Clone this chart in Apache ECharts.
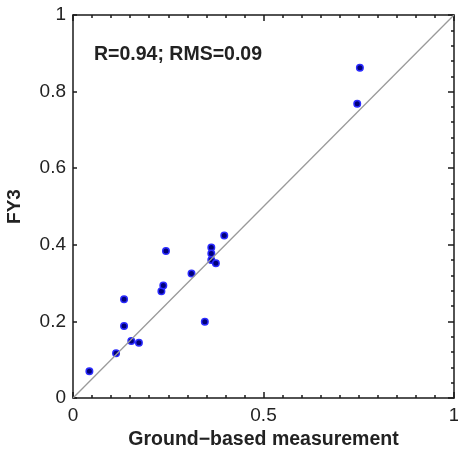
<!DOCTYPE html>
<html>
<head>
<meta charset="utf-8">
<script src="https://cdn.jsdelivr.net/npm/echarts@6/dist/echarts.min.js"></script>
<style>html,body{margin:0;padding:0;background:#fff}#c{width:458px;height:451px}</style>
</head>
<body>
<div id="c"></div>
<script>
const groundValues = [0.043, 0.113, 0.134, 0.134, 0.153, 0.173, 0.232, 0.237, 0.244, 0.311, 0.346, 0.363, 0.363, 0.363, 0.375, 0.397, 0.746, 0.753];
const fy3Values    = [0.070, 0.117, 0.188, 0.258, 0.149, 0.144, 0.279, 0.294, 0.384, 0.325, 0.199, 0.393, 0.377, 0.360, 0.352, 0.424, 0.768, 0.862];
const identityLine = [[0, 0], [1, 1]];
const xTicks = [0, 0.5, 1];
const yTicks = [0, 0.2, 0.4, 0.6, 0.8, 1];
const annotation = 'R=0.94; RMS=0.09';
const xName = 'Ground\u2212based measurement';
const yName = 'FY3';

const FONT = '"Liberation Sans", Arial, sans-serif';
const axisLineStyle = { color: '#1a1a1a', width: 1.5 };
const points = groundValues.map((g, i) => [g, fy3Values[i]]);

const chart = echarts.init(document.getElementById('c'), null, { renderer: 'canvas' });
chart.setOption({
  animation: false,
  backgroundColor: '#fff',
  grid: { left: 73, right: 4, top: 15, bottom: 53, containLabel: false, outerBoundsMode: 'none' },
  xAxis: [
    {
      type: 'value', min: xTicks[0], max: xTicks[xTicks.length - 1], interval: xTicks[1] - xTicks[0],
      position: 'bottom',
      name: xName, nameLocation: 'middle', nameGap: 30,
      nameTextStyle: { fontFamily: FONT, fontSize: 19.5, fontWeight: 'bold', color: '#222' },
      axisLine: { show: true, onZero: false, lineStyle: axisLineStyle },
      axisTick: { show: true, inside: true, length: 6, lineStyle: axisLineStyle },
      minorTick: { show: true, splitNumber: 10, length: 3, lineStyle: { color: '#1a1a1a', width: 1.5 } },
      axisLabel: { fontFamily: FONT, fontSize: 19, color: '#222', margin: 8 },
      splitLine: { show: false }
    },
    {
      type: 'value', min: xTicks[0], max: xTicks[xTicks.length - 1], interval: xTicks[1] - xTicks[0],
      position: 'top',
      axisLine: { show: true, onZero: false, lineStyle: axisLineStyle },
      axisTick: { show: true, inside: true, length: 6, lineStyle: axisLineStyle },
      minorTick: { show: true, splitNumber: 10, length: 3, lineStyle: { color: '#1a1a1a', width: 1.5 } },
      axisLabel: { show: false },
      splitLine: { show: false }
    }
  ],
  yAxis: [
    {
      type: 'value', min: yTicks[0], max: yTicks[yTicks.length - 1], interval: yTicks[1] - yTicks[0],
      position: 'left',
      name: yName, nameLocation: 'middle', nameGap: 49,
      nameTextStyle: { fontFamily: FONT, fontSize: 19, fontWeight: 'bold', color: '#222' },
      axisLine: { show: true, onZero: false, lineStyle: axisLineStyle },
      axisTick: { show: true, inside: true, length: 4, lineStyle: axisLineStyle },
      axisLabel: { fontFamily: FONT, fontSize: 19, color: '#222', margin: 7 },
      splitLine: { show: false }
    },
    {
      type: 'value', min: yTicks[0], max: yTicks[yTicks.length - 1], interval: yTicks[1] - yTicks[0],
      position: 'right',
      axisLine: { show: true, onZero: false, lineStyle: axisLineStyle },
      axisTick: { show: true, inside: true, length: 6, lineStyle: axisLineStyle },
      minorTick: { show: true, splitNumber: 5, length: 3, lineStyle: { color: '#1a1a1a', width: 1.5 } },
      axisLabel: { show: false },
      splitLine: { show: false }
    }
  ],
  graphic: [
    {
      type: 'text', left: 94, top: 45,
      style: { text: annotation, font: 'bold 19.5px ' + FONT, fill: '#222' }
    }
  ],
  series: [
    {
      type: 'line', data: identityLine, xAxisIndex: 0, yAxisIndex: 0,
      symbol: 'none', silent: true,
      lineStyle: { color: '#9a9a9a', width: 1.3 }
    },
    {
      type: 'scatter', data: points, xAxisIndex: 0, yAxisIndex: 0,
      symbol: 'circle', symbolSize: 6.5,
      itemStyle: { color: '#00007a', borderColor: '#2b2bff', borderWidth: 1.5, opacity: 1 }
    }
  ]
});
</script>
</body>
</html>
